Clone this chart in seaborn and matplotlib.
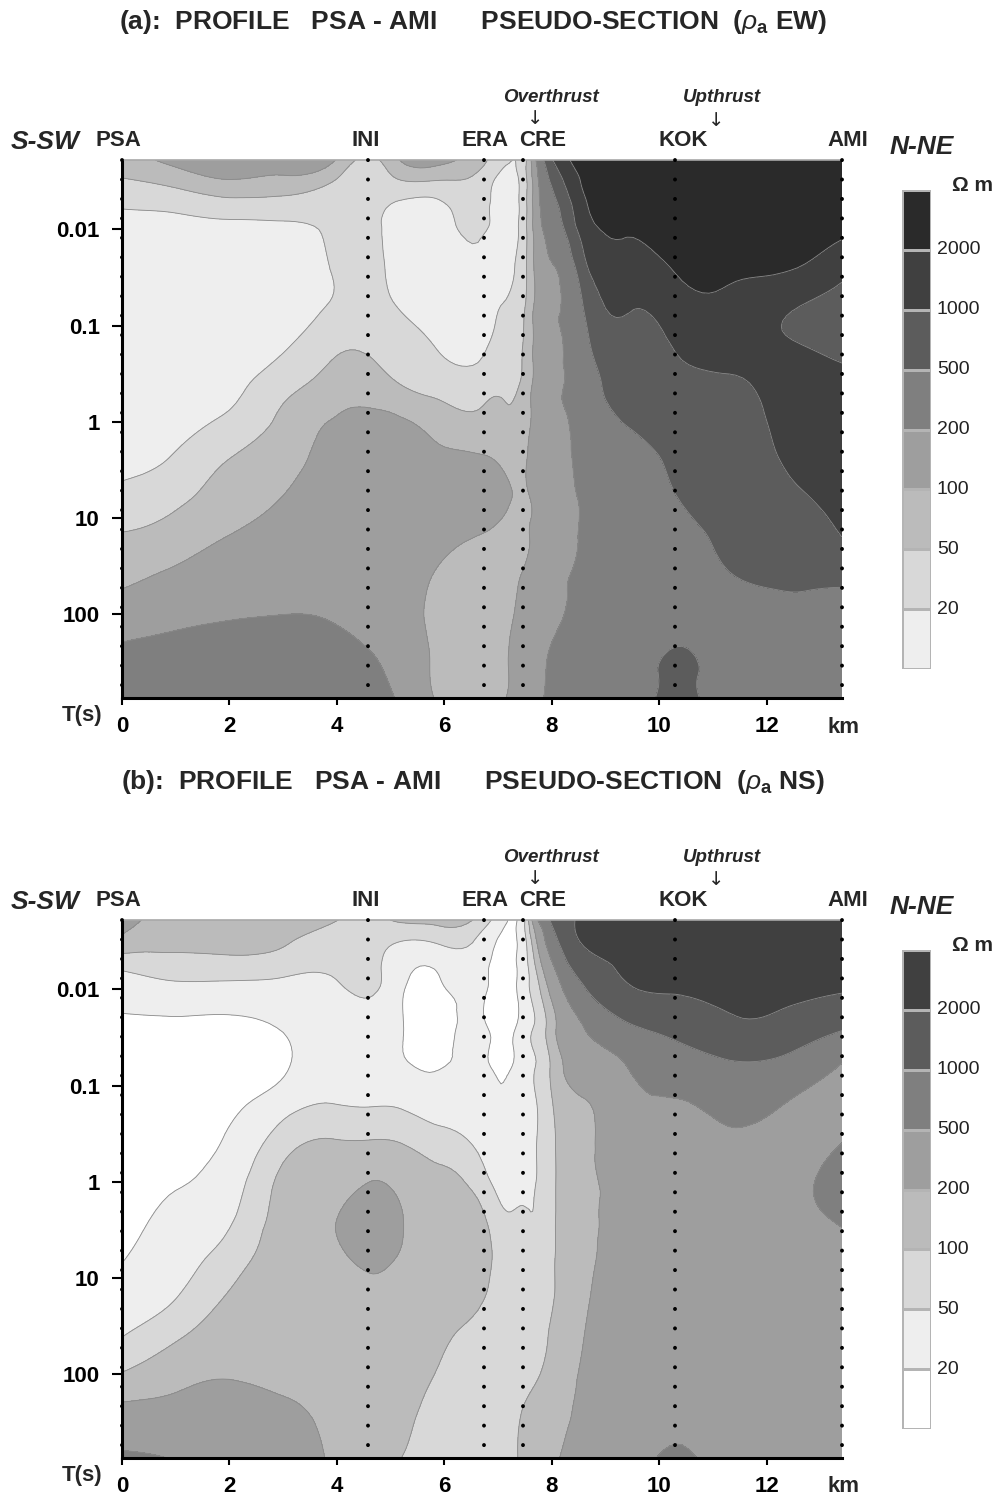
import numpy as np
import pandas as pd
import matplotlib
matplotlib.use("Agg")
import matplotlib.pyplot as plt
import matplotlib.tri as mtri
from matplotlib.colors import ListedColormap
import seaborn as sns

sns.set_theme(style="ticks")
plt.rcParams["font.family"] = ["Liberation Sans", "DejaVu Sans"]
plt.rcParams["mathtext.fontset"] = "custom"
plt.rcParams["mathtext.rm"] = "Liberation Sans"
plt.rcParams["mathtext.it"] = "Liberation Sans:italic"
plt.rcParams["mathtext.bf"] = "Liberation Sans:bold"
plt.rcParams["lines.scale_dashes"] = False

# ---------------- data ----------------
station_names = ["PSA", "INI", "ERA", "CRE", "KOK", "AMI"]
station_km = [0.0, 4.58, 6.73, 7.46, 10.29, 13.4]
station_label_px = [118, 366, 485, 543, 683, 848]

km_ticks = [0, 2, 4, 6, 8, 10, 12]
period_ticks = [0.01, 0.1, 1, 10, 100]
period_tick_labels = ["0.01", "0.1", "1", "10", "100"]
rho_levels = [20, 50, 100, 200, 500, 1000, 2000]

colors_ew = ["#eeeeee", "#d8d8d8", "#bbbbbb", "#9e9e9e", "#7f7f7f", "#5c5c5c", "#404040", "#2a2a2a"]
colors_ns = ["#ffffff", "#eeeeee", "#d8d8d8", "#bbbbbb", "#9e9e9e", "#7f7f7f", "#5c5c5c", "#404040"]

# grid nodes: distance along profile (km) and log10 period (s)
grid_km = [0, 1, 2, 3, 3.9, 4.6, 5.2, 5.9, 6.73, 7.1, 7.46, 7.75, 8.0, 8.6, 9.4, 10.3, 11.3, 12.3, 13.4]
grid_log_period = [-2.72, -2.5, -2.25, -2.0, -1.6, -1.2, -0.8, -0.4, 0.0, 0.4, 0.8, 1.2, 1.6, 2.0, 2.4, 2.87]

# log10 apparent resistivity (ohm m), one list per grid column (top -> bottom)
log_rho_ew = [
    [1.85, 1.66, 1.34, 1.15, 1.05, 1.00, 1.00, 1.05, 1.12, 1.22, 1.41, 1.74, 1.94, 2.14, 2.35, 2.42],
    [2.08, 1.81, 1.41, 1.15, 1.02, 1.00, 1.02, 1.10, 1.20, 1.35, 1.62, 1.85, 2.05, 2.23, 2.38, 2.45],
    [2.15, 1.98, 1.54, 1.20, 1.05, 1.00, 1.05, 1.18, 1.39, 1.71, 1.86, 2.01, 2.15, 2.28, 2.40, 2.47],
    [2.12, 1.93, 1.53, 1.22, 1.12, 1.12, 1.24, 1.55, 1.78, 1.89, 2.01, 2.10, 2.20, 2.30, 2.42, 2.50],
    [2.06, 1.72, 1.45, 1.35, 1.31, 1.33, 1.60, 1.82, 2.01, 2.10, 2.15, 2.18, 2.20, 2.28, 2.38, 2.45],
    [1.62, 1.45, 1.40, 1.38, 1.38, 1.42, 1.62, 1.88, 2.04, 2.12, 2.17, 2.18, 2.18, 2.20, 2.31, 2.40],
    [2.02, 1.68, 1.22, 1.12, 1.15, 1.27, 1.45, 1.68, 2.03, 2.12, 2.16, 2.14, 2.10, 2.10, 2.18, 2.26],
    [2.08, 1.68, 1.20, 1.05, 1.00, 1.05, 1.25, 1.55, 1.87, 2.06, 2.10, 2.06, 1.98, 1.93, 1.92, 1.95],
    [1.75, 1.50, 1.42, 1.36, 1.20, 1.15, 1.22, 1.55, 1.78, 2.03, 2.08, 1.98, 1.85, 1.80, 1.78, 1.78],
    [1.45, 1.12, 1.05, 1.05, 1.15, 1.32, 1.48, 1.62, 1.78, 1.95, 2.05, 1.90, 1.85, 1.88, 1.95, 1.98],
    [1.50, 1.48, 1.48, 1.50, 1.55, 1.62, 1.70, 1.76, 1.86, 1.96, 1.96, 1.94, 2.02, 2.10, 2.12, 2.12],
    [2.45, 2.30, 2.25, 2.20, 2.15, 2.14, 2.14, 2.14, 2.12, 2.10, 2.08, 2.08, 2.12, 2.20, 2.24, 2.27],
    [2.98, 2.75, 2.58, 2.45, 2.28, 2.26, 2.25, 2.25, 2.21, 2.17, 2.14, 2.15, 2.20, 2.25, 2.32, 2.34],
    [3.42, 3.35, 3.25, 3.14, 2.92, 2.72, 2.60, 2.52, 2.46, 2.40, 2.35, 2.34, 2.36, 2.40, 2.43, 2.45],
    [3.60, 3.52, 3.42, 3.32, 3.18, 3.02, 2.90, 2.80, 2.71, 2.60, 2.52, 2.50, 2.48, 2.48, 2.50, 2.50],
    [3.75, 3.70, 3.60, 3.50, 3.33, 3.15, 3.02, 2.92, 2.82, 2.74, 2.69, 2.60, 2.55, 2.60, 2.72, 2.78],
    [3.80, 3.75, 3.65, 3.52, 3.36, 3.22, 3.10, 2.97, 2.90, 2.84, 2.78, 2.74, 2.69, 2.60, 2.55, 2.52],
    [3.75, 3.68, 3.58, 3.45, 3.33, 3.05, 3.03, 3.08, 3.05, 3.01, 2.92, 2.80, 2.73, 2.64, 2.58, 2.55],
    [3.70, 3.60, 3.48, 3.36, 3.10, 2.88, 2.90, 3.10, 3.12, 3.10, 3.05, 3.00, 2.76, 2.62, 2.56, 2.55],
]

log_rho_ns = [
    [2.42, 2.22, 1.78, 1.50, 1.20, 1.05, 1.00, 1.00, 1.05, 1.15, 1.28, 1.49, 1.69, 2.02, 2.40, 2.75],
    [2.15, 2.08, 1.88, 1.60, 1.20, 1.05, 1.05, 1.12, 1.27, 1.40, 1.55, 1.69, 1.95, 2.21, 2.40, 2.68],
    [2.20, 2.10, 1.90, 1.58, 1.20, 1.05, 1.20, 1.37, 1.52, 1.66, 1.85, 2.03, 2.16, 2.28, 2.42, 2.50],
    [2.15, 2.03, 1.85, 1.55, 1.32, 1.25, 1.55, 1.88, 2.07, 2.12, 2.15, 2.15, 2.18, 2.25, 2.34, 2.40],
    [2.03, 1.90, 1.78, 1.60, 1.45, 1.50, 1.71, 2.03, 2.18, 2.28, 2.24, 2.20, 2.20, 2.22, 2.25, 2.28],
    [1.90, 1.82, 1.80, 1.76, 1.55, 1.45, 1.68, 2.03, 2.30, 2.42, 2.36, 2.22, 2.15, 2.12, 2.12, 2.13],
    [2.05, 1.70, 1.45, 1.36, 1.34, 1.38, 1.66, 2.00, 2.20, 2.32, 2.26, 2.18, 2.12, 2.08, 2.04, 2.00],
    [2.08, 1.75, 1.38, 1.18, 1.05, 1.25, 1.50, 1.86, 2.06, 2.12, 2.12, 2.10, 2.05, 1.98, 1.92, 1.90],
    [1.85, 1.55, 1.42, 1.40, 1.38, 1.40, 1.42, 1.58, 1.80, 2.05, 2.10, 2.01, 1.90, 1.84, 1.82, 1.82],
    [1.40, 1.20, 1.10, 1.05, 1.08, 1.20, 1.35, 1.45, 1.58, 1.75, 1.85, 1.88, 1.88, 1.88, 1.90, 1.90],
    [1.55, 1.52, 1.50, 1.50, 1.50, 1.52, 1.55, 1.58, 1.62, 1.74, 1.80, 1.85, 1.88, 1.92, 2.01, 2.04],
    [2.75, 2.40, 2.15, 1.95, 1.80, 1.74, 1.72, 1.72, 1.72, 1.74, 1.78, 1.84, 1.93, 1.99, 2.10, 2.15],
    [3.03, 2.88, 2.66, 2.42, 2.18, 2.05, 1.98, 1.94, 1.93, 1.94, 1.95, 1.97, 2.03, 2.08, 2.15, 2.24],
    [3.38, 3.34, 3.15, 2.98, 2.70, 2.50, 2.27, 2.24, 2.23, 2.23, 2.24, 2.26, 2.30, 2.35, 2.40, 2.43],
    [3.55, 3.45, 3.35, 3.27, 2.95, 2.70, 2.60, 2.55, 2.50, 2.48, 2.47, 2.47, 2.47, 2.48, 2.50, 2.52],
    [3.70, 3.60, 3.45, 3.33, 3.07, 2.87, 2.67, 2.60, 2.56, 2.53, 2.52, 2.52, 2.54, 2.58, 2.64, 2.76],
    [3.70, 3.62, 3.50, 3.38, 3.23, 2.96, 2.80, 2.62, 2.56, 2.54, 2.53, 2.52, 2.52, 2.52, 2.52, 2.52],
    [3.65, 3.58, 3.46, 3.37, 3.20, 2.92, 2.70, 2.62, 2.64, 2.62, 2.56, 2.53, 2.52, 2.52, 2.52, 2.52],
    [3.60, 3.50, 3.40, 3.32, 3.03, 2.68, 2.62, 2.70, 2.78, 2.72, 2.62, 2.56, 2.54, 2.53, 2.53, 2.53],
]

titles = [
    r"(a):  PROFILE   PSA - AMI      PSEUDO-SECTION  ($\rho_{\mathbf{a}}$ EW)",
    r"(b):  PROFILE   PSA - AMI      PSEUDO-SECTION  ($\rho_{\mathbf{a}}$ NS)",
]

# ---------------- figure ----------------
W, H = 996, 1497
fig = plt.figure(figsize=(W / 100, H / 100), dpi=100)


def fx(px):
    return px / W


def fy(py):
    return 1 - py / H


def ftext(px, py, s, **kw):
    fig.text(fx(px), fy(py), s, **kw)


def grid_triangulation(z2d):
    """Triangulate the rectangular grid, splitting each cell along its flatter diagonal."""
    ny, nx = z2d.shape
    X, Y = np.meshgrid(grid_km, grid_log_period)
    idx = np.arange(ny * nx).reshape(ny, nx)
    tris = []
    for i in range(ny - 1):
        for j in range(nx - 1):
            a, b, c, d = idx[i, j], idx[i, j + 1], idx[i + 1, j + 1], idx[i + 1, j]
            if abs(z2d[i, j] - z2d[i + 1, j + 1]) <= abs(z2d[i, j + 1] - z2d[i + 1, j]):
                tris += [[a, b, c], [a, c, d]]
            else:
                tris += [[a, b, d], [b, c, d]]
    return mtri.Triangulation(X.ravel(), Y.ravel(), triangles=np.array(tris))


def panel(cols, colors, title, dy):
    top, bot = 160 + dy, 698 + dy
    ax = fig.add_axes([fx(122), fy(bot), fx(842) - fx(122), fy(top) - fy(bot)])
    Z = np.array(cols, dtype=float).T
    tri = grid_triangulation(Z)
    interp = mtri.CubicTriInterpolator(tri, Z.ravel(), kind="min_E")
    refiner = mtri.UniformTriRefiner(tri)
    tri_f, z_f = refiner.refine_field(Z.ravel(), triinterpolator=interp, subdiv=3)
    lv = list(np.log10(rho_levels))
    ax.tricontourf(tri_f, z_f, levels=[-5] + lv + [9], colors=colors)
    ax.tricontour(tri_f, z_f, levels=lv, colors="#8a8a8a", linewidths=0.6)

    ymin, ymax = grid_log_period[0], grid_log_period[-1]
    ax.set_xlim(0, 13.4)
    ax.set_ylim(ymax, ymin)

    for s in station_km:
        ax.plot([s, s], [ymin, ymax], ls=(0, (0.1, 13.9)), lw=2.8, color="black",
                dash_capstyle="round", clip_on=False, zorder=6)

    ax.set_yticks(np.log10(period_ticks))
    ax.set_yticklabels(period_tick_labels, fontsize=16, fontweight="bold")
    ax.set_xticks(km_ticks)
    ax.set_xticklabels([str(k) for k in km_ticks], fontsize=16, fontweight="bold")
    ax.tick_params(axis="y", direction="out", length=7, width=1.5, pad=9, colors="black")
    ax.tick_params(axis="x", direction="out", length=5, width=1.5, pad=8, colors="black")
    for side in ["left", "bottom"]:
        ax.spines[side].set_linewidth(2.2)
        ax.spines[side].set_color("black")
    ax.spines["top"].set_color("#a8a8a8")
    ax.spines["top"].set_linewidth(1.2)
    ax.spines["right"].set_visible(False)
    ax.set_xlabel("")
    ax.set_ylabel("")

    # colorbar drawn as a seaborn heatmap
    cb_top, cb_bot = 190 + dy, 669 + dy
    cax = fig.add_axes([fx(902), fy(cb_bot), fx(931) - fx(902), fy(cb_top) - fy(cb_bot)])
    cb = pd.DataFrame({"cls": list(range(len(colors) - 1, -1, -1))})
    sns.heatmap(cb, ax=cax, cmap=ListedColormap(colors), vmin=-0.5, vmax=len(colors) - 0.5,
                cbar=False, linewidths=0.8, linecolor="#b4b4b4",
                xticklabels=False, yticklabels=False)
    for i, lvl in enumerate(reversed(rho_levels)):
        cax.text(1.2, i + 1, str(lvl), ha="left", va="center", fontsize=14, color="#222222")
    cax.text(2.42, -0.07, "Ω m", ha="center", va="center", fontsize=15, fontweight="bold")

    # texts
    ftext(473, 22 + dy, title, ha="center", va="center", fontsize=19, fontweight="bold")
    ftext(45, 142 + dy, "S-SW", ha="center", va="center", fontsize=19, fontweight="bold", style="italic")
    ftext(922, 147 + dy, "N-NE", ha="center", va="center", fontsize=19, fontweight="bold", style="italic")
    for name, px in zip(station_names, station_label_px):
        ftext(px, 141 + dy, name, ha="center", va="center", fontsize=16, fontweight="bold")
    ftext(551, 97 + dy, "Overthrust", ha="center", va="center", fontsize=13.5, fontweight="bold", style="italic")
    ftext(535, 118 + dy, "↓", ha="center", va="center", fontsize=14, family=["DejaVu Sans"])
    ftext(722, 97 + dy, "Upthrust", ha="center", va="center", fontsize=13.5, fontweight="bold", style="italic")
    ftext(716, 120 + dy, "↓", ha="center", va="center", fontsize=14, family=["DejaVu Sans"])
    ftext(82, 716 + dy, "T(s)", ha="center", va="center", fontsize=16, fontweight="bold")
    ftext(843, 727 + dy, "km", ha="center", va="center", fontsize=16, fontweight="bold")
    return ax


panel(log_rho_ew, colors_ew, titles[0], 0)
panel(log_rho_ns, colors_ns, titles[1], 760)

fig.savefig("out.png", dpi=100, facecolor="white")
